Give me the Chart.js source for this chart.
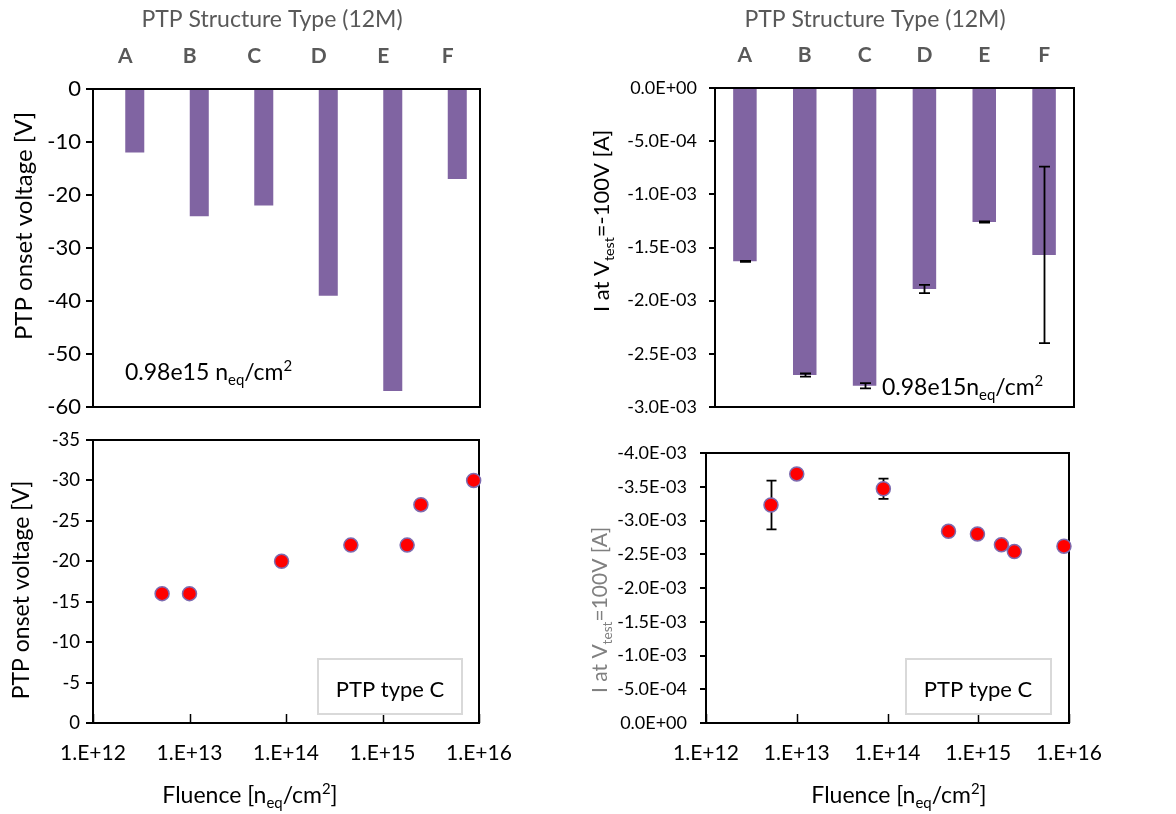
<!DOCTYPE html>
<html>
<head>
<meta charset="utf-8">
<title>PTP onset voltage and current</title>
<script src="https://cdn.jsdelivr.net/npm/chart.js@4.4.1/dist/chart.umd.min.js"></script>
<style>
  html, body { margin: 0; padding: 0; background: #fff; }
  #page { position: relative; width: 1176px; height: 814px; overflow: hidden; }
  canvas { position: absolute; }
</style>
</head>
<body>
<div id="page">
  <canvas id="typeVoltage" width="588" height="420" style="left:0;top:0"></canvas>
  <canvas id="typeCurrent" width="588" height="420" style="left:588px;top:0"></canvas>
  <canvas id="fluenceVoltage" width="588" height="394" style="left:0;top:420px"></canvas>
  <canvas id="fluenceCurrent" width="588" height="394" style="left:588px;top:420px"></canvas>
</div>
<script>
// structure types at 0.98e15 neq/cm2
const structureTypes = ['A', 'B', 'C', 'D', 'E', 'F'];
const onsetByType = [-12, -24, -22, -39, -57, -17];
const currentByType = [-1.63e-3, -2.70e-3, -2.80e-3, -1.89e-3, -1.26e-3, -1.57e-3];
const currentByTypeErr = [0.005e-3, 0.015e-3, 0.024e-3, 0.039e-3, 0.005e-3, 0.83e-3];

// type C versus fluence
const fluenceOnset = [5.2e12, 1e13, 9e13, 4.7e14, 1.8e15, 2.5e15, 8.8e15];
const onsetTypeC = [-16, -16, -20, -22, -22, -27, -30];
const fluenceCurrent = [5.2e12, 1e13, 9e13, 4.7e14, 0.98e15, 1.8e15, 2.5e15, 8.8e15];
const currentTypeC = [-3.23e-3, -3.69e-3, -3.47e-3, -2.84e-3, -2.80e-3, -2.64e-3, -2.54e-3, -2.62e-3];
const currentTypeCErr = [0.36e-3, 0, 0.15e-3, 0, 0, 0, 0, 0];

// axis ticks
const fluenceTicks = [1e12, 1e13, 1e14, 1e15, 1e16];
const currentTicksType = [0, -0.5e-3, -1e-3, -1.5e-3, -2e-3, -2.5e-3, -3e-3];
const currentTicksFluence = [0, -0.5e-3, -1e-3, -1.5e-3, -2e-3, -2.5e-3, -3e-3, -3.5e-3, -4e-3];

const FONT = 'Lato, "Open Sans", sans-serif';
const PURPLE = '#8064A2';
Chart.defaults.font.family = FONT;
Chart.defaults.color = '#000';

// Excel style 1.0E-03 labels
function sci(v) {
  if (Math.abs(v) < 1e-12) return '0.0E+00';
  const [m, e] = v.toExponential(1).split('e');
  const n = parseInt(e, 10);
  return m + 'E' + (n < 0 ? '-' : '+') + String(Math.abs(n)).padStart(2, '0');
}
const fluenceLabel = v => '1.E+' + Math.round(Math.log10(v));

function drawRuns(ctx, t) {
  const parts = t.runs.map(([s, kind]) => ({
    s,
    font: (t.weight || 'normal') + ' ' + (kind ? t.size * 0.65 : t.size) + 'px ' + FONT,
    dy: kind === 'sub' ? t.size * 0.22 : kind === 'sup' ? -t.size * 0.38 : 0
  }));
  let total = 0;
  parts.forEach(p => { ctx.font = p.font; p.w = ctx.measureText(p.s).width; total += p.w; });
  ctx.save();
  ctx.translate(t.x, t.y);
  if (t.rot) ctx.rotate(-Math.PI / 2);
  ctx.fillStyle = t.color || '#000';
  ctx.textAlign = 'left';
  ctx.textBaseline = 'alphabetic';
  let x = t.align === 'left' ? 0 : -total / 2;
  parts.forEach(p => { ctx.font = p.font; ctx.fillText(p.s, x, p.dy); x += p.w; });
  ctx.restore();
}

// frame, error bars, inner ticks and free text for one chart
function makeDecor(cfg) {
  function frame(chart) {
    const a = chart.chartArea, ctx = chart.ctx;
    ctx.save();
    ctx.strokeStyle = '#000';
    ctx.lineWidth = 2;
    ctx.strokeRect(a.left, a.top, a.right - a.left, a.bottom - a.top);
    if (cfg.innerTicks) {
      const xs = chart.scales.x;
      ctx.beginPath();
      xs.ticks.forEach(t => {
        const px = Math.round(xs.getPixelForValue(t.value)) + 0.5;
        ctx.moveTo(px, a.bottom);
        ctx.lineTo(px, a.bottom - 9);
      });
      ctx.lineWidth = 1.5;
      ctx.stroke();
    }
    ctx.restore();
  }
  function errors(chart) {
    const e = cfg.errors;
    const meta = chart.getDatasetMeta(e.dataset);
    const ys = chart.scales.y, ctx = chart.ctx;
    ctx.save();
    ctx.strokeStyle = '#000';
    ctx.lineWidth = 1.8;
    meta.data.forEach((el, i) => {
      const d = e.err[i];
      if (!d) return;
      const y1 = ys.getPixelForValue(e.values[i] + d);
      const y2 = ys.getPixelForValue(e.values[i] - d);
      const x = Math.round(el.x) + 0.5;
      ctx.beginPath();
      ctx.moveTo(x, y1); ctx.lineTo(x, y2);
      ctx.moveTo(x - e.cap, y1); ctx.lineTo(x + e.cap, y1);
      ctx.moveTo(x - e.cap, y2); ctx.lineTo(x + e.cap, y2);
      ctx.stroke();
    });
    ctx.restore();
  }
  return {
    id: 'decor',
    beforeDatasetsDraw(chart) {
      if (!cfg.frameOnTop) frame(chart);
      if (cfg.errors && cfg.errors.behind) errors(chart);
    },
    afterDatasetsDraw(chart) {
      if (cfg.frameOnTop) frame(chart);
      if (cfg.errors && !cfg.errors.behind) errors(chart);
    },
    afterDraw(chart) {
      const ctx = chart.ctx;
      (cfg.boxes || []).forEach(b => {
        ctx.save();
        ctx.fillStyle = '#fff';
        ctx.fillRect(b.x, b.y, b.w, b.h);
        ctx.strokeStyle = '#d9d9d9';
        ctx.lineWidth = 2;
        ctx.strokeRect(b.x, b.y, b.w, b.h);
        ctx.restore();
      });
      (cfg.texts || []).forEach(t => drawRuns(ctx, t));
    }
  };
}

const baseOptions = {
  responsive: false,
  maintainAspectRatio: false,
  devicePixelRatio: 1,
  animation: false,
  events: [],
  plugins: { legend: { display: false }, tooltip: { enabled: false }, title: { display: false } }
};

// fixed-width value axis; label overhang is ignored so the plot area stays put
function yAxis(width, o) {
  return Object.assign({
    afterFit: s => { s.width = width; s.paddingTop = 0; s.paddingBottom = 0; },
    border: { display: false },
    grid: { drawOnChartArea: false, drawTicks: true, tickLength: 7, color: '#000', lineWidth: 2 },
    ticks: { color: '#000', autoSkip: false }
  }, o);
}

function typeAxis(height) {
  return {
    position: 'top',
    afterFit: s => { s.height = height; },
    grid: { display: false, drawTicks: false },
    border: { display: false },
    ticks: { color: '#595959', padding: 20, font: { size: 21, weight: 'bold' } }
  };
}

// --- type comparison: onset voltage ---
new Chart(document.getElementById('typeVoltage'), {
  type: 'bar',
  data: {
    labels: structureTypes,
    datasets: [
      { label: 'spacer', data: structureTypes.map(() => null), backgroundColor: 'transparent' },
      { label: 'Onset voltage', data: onsetByType, backgroundColor: PURPLE, borderWidth: 0 }
    ]
  },
  options: Object.assign({}, baseOptions, {
    layout: { autoPadding: false, padding: { left: 0, top: 0, right: 108, bottom: 13 } },
    datasets: { bar: { categoryPercentage: 0.59, barPercentage: 1 } },
    scales: {
      x: typeAxis(89),
      y: yAxis(93, {
        min: -60, max: 0,
        ticks: { color: '#000', stepSize: 10, padding: 5, font: { size: 22 } }
      })
    }
  }),
  plugins: [makeDecor({
    frameOnTop: true,
    texts: [
      { x: 272, y: 27, size: 23, color: '#595959', runs: [['PTP Structure Type (12M)']] },
      { x: 32, y: 226, rot: true, size: 24, runs: [['PTP onset voltage [V]']] },
      { x: 125, y: 380, align: 'left', size: 23, runs: [['0.98e15 n'], ['eq', 'sub'], ['/cm'], ['2', 'sup']] }
    ]
  })]
});

// --- type comparison: current at -100 V ---
new Chart(document.getElementById('typeCurrent'), {
  type: 'bar',
  data: {
    labels: structureTypes,
    datasets: [{ label: 'Current', data: currentByType, backgroundColor: PURPLE, borderWidth: 0 }]
  },
  options: Object.assign({}, baseOptions, {
    layout: { autoPadding: false, padding: { left: 0, top: 0, right: 102, bottom: 13 } },
    datasets: { bar: { categoryPercentage: 0.393, barPercentage: 1 } },
    scales: {
      x: typeAxis(88),
      y: yAxis(127, {
        min: -3e-3, max: 0,
        afterBuildTicks: s => { s.ticks = currentTicksType.map(v => ({ value: v })); },
        grid: { drawOnChartArea: false, drawTicks: true, tickLength: 6, color: '#000', lineWidth: 2 },
        ticks: { color: '#000', padding: 12, autoSkip: false, font: { size: 18 }, callback: v => sci(v) }
      })
    }
  }),
  plugins: [makeDecor({
    frameOnTop: true,
    errors: { dataset: 0, values: currentByType, err: currentByTypeErr, cap: 5.5, behind: false },
    texts: [
      { x: 287, y: 27, size: 23, color: '#595959', runs: [['PTP Structure Type (12M)']] },
      { x: 21, y: 221, rot: true, size: 22, runs: [['I at V'], ['test', 'sub'], ['=-100V [A]']] },
      { x: 294, y: 395, align: 'left', size: 23, runs: [['0.98e15n'], ['eq', 'sub'], ['/cm'], ['2', 'sup']] }
    ]
  })]
});

function fluenceAxis() {
  return {
    type: 'logarithmic',
    min: 1e12, max: 1e16,
    afterFit: s => { s.height = 91; },
    afterBuildTicks: s => { s.ticks = fluenceTicks.map(v => ({ value: v })); },
    grid: { display: false, drawTicks: false },
    border: { display: false },
    ticks: { color: '#000', padding: 18, autoSkip: false, maxRotation: 0, font: { size: 21 }, callback: v => fluenceLabel(v) }
  };
}

const markerStyle = {
  showLine: false,
  pointRadius: 7,
  pointBorderWidth: 1.5,
  pointBackgroundColor: '#ff0000',
  pointBorderColor: '#7d6bb0',
  clip: false
};

// --- type C: onset voltage versus fluence ---
new Chart(document.getElementById('fluenceVoltage'), {
  type: 'scatter',
  data: {
    datasets: [Object.assign({
      label: 'PTP type C',
      data: fluenceOnset.map((f, i) => ({ x: f, y: onsetTypeC[i] }))
    }, markerStyle)]
  },
  options: Object.assign({}, baseOptions, {
    layout: { autoPadding: false, padding: { left: 0, top: 20, right: 109, bottom: 0 } },
    scales: {
      x: fluenceAxis(),
      y: yAxis(93, {
        min: -35, max: 0, reverse: true,
        ticks: { color: '#000', stepSize: 5, padding: 6, font: { size: 18.5 } }
      })
    }
  }),
  plugins: [makeDecor({
    innerTicks: true,
    boxes: [{ x: 318, y: 239, w: 144, h: 55 }],
    texts: [
      { x: 29, y: 170, rot: true, size: 23, runs: [['PTP onset voltage [V]']] },
      { x: 250, y: 383, size: 23, runs: [['Fluence [n'], ['eq', 'sub'], ['/cm'], ['2', 'sup'], [']']] },
      { x: 390, y: 277, size: 22, runs: [['PTP type C']] }
    ]
  })]
});

// --- type C: current versus fluence ---
new Chart(document.getElementById('fluenceCurrent'), {
  type: 'scatter',
  data: {
    datasets: [Object.assign({
      label: 'PTP type C',
      data: fluenceCurrent.map((f, i) => ({ x: f, y: currentTypeC[i] }))
    }, markerStyle)]
  },
  options: Object.assign({}, baseOptions, {
    layout: { autoPadding: false, padding: { left: 0, top: 33, right: 107, bottom: 0 } },
    scales: {
      x: fluenceAxis(),
      y: yAxis(118, {
        min: -4e-3, max: 0, reverse: true,
        afterBuildTicks: s => { s.ticks = currentTicksFluence.map(v => ({ value: v })); },
        grid: { drawOnChartArea: false, drawTicks: true, tickLength: 6, color: '#000', lineWidth: 2 },
        ticks: { color: '#000', padding: 13, autoSkip: false, font: { size: 18 }, callback: v => sci(v) }
      })
    }
  }),
  plugins: [makeDecor({
    innerTicks: true,
    errors: { dataset: 0, values: currentTypeC, err: currentTypeCErr, cap: 5, behind: true },
    boxes: [{ x: 318, y: 239, w: 145, h: 55 }],
    texts: [
      { x: 19, y: 190, rot: true, size: 21, color: '#808080', runs: [['I at V'], ['test', 'sub'], ['=100V [A]']] },
      { x: 311, y: 383, size: 23, runs: [['Fluence [n'], ['eq', 'sub'], ['/cm'], ['2', 'sup'], [']']] },
      { x: 390, y: 277, size: 22, runs: [['PTP type C']] }
    ]
  })]
});
</script>
</body>
</html>
